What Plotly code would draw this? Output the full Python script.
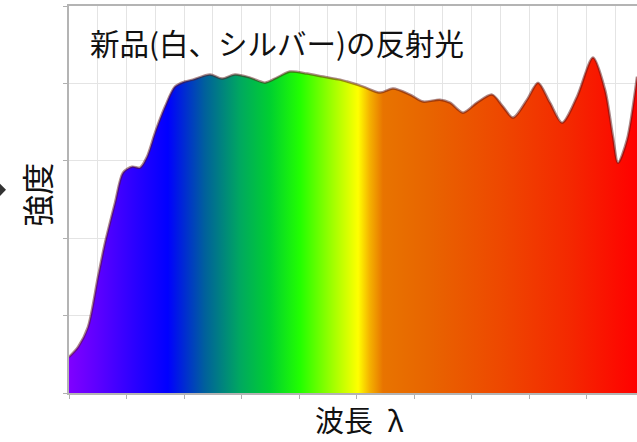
import plotly.graph_objects as go

# Wavelength position (arbitrary units, one tick = 1) and reflected intensity
wavelength = [0.0, 0.157, 0.330, 0.504, 0.626, 0.800, 0.939, 1.096, 1.235, 1.357,
              1.496, 1.670, 1.843, 2.017, 2.157, 2.452, 2.661, 2.887, 3.148, 3.409,
              3.617, 3.843, 4.139, 4.417, 4.713, 4.835, 5.113, 5.409, 5.635, 5.930,
              6.157, 6.452, 6.626, 6.852, 7.096, 7.357, 7.548, 7.722, 7.965, 8.157,
              8.365, 8.574, 8.835, 9.113, 9.322, 9.461, 9.548, 9.704, 9.878]
intensity = [0.466, 0.595, 0.854, 1.501, 1.940, 2.458, 2.846, 2.924, 2.911, 3.053,
             3.364, 3.700, 3.959, 4.024, 4.049, 4.114, 4.062, 4.114, 4.075, 4.010,
             4.075, 4.153, 4.127, 4.088, 4.049, 4.024, 3.959, 3.881, 3.933, 3.855,
             3.765, 3.790, 3.752, 3.622, 3.752, 3.855, 3.700, 3.558, 3.790, 4.010,
             3.752, 3.493, 3.829, 4.334, 3.920, 3.312, 2.975, 3.273, 4.088]

# Spectrum gradient stops (relative position, colour)
spectrum_pos = [0.0, 0.046, 0.116, 0.174, 0.239, 0.301, 0.354, 0.407, 0.468,
                0.509, 0.530, 0.553, 0.636, 0.759, 0.882, 1.0]
spectrum_col = ["#8000ff", "#6000ff", "#2a00ff", "#0000ff", "#00609c", "#00a860",
                "#00d030", "#22ff00", "#a8ff00", "#ffff00", "#f4b000", "#e87400",
                "#e86400", "#ee4800", "#f42800", "#ff0000"]

title_text = "新品(白、シルバー)の反射光"
x_label = "波長\u2002λ"
y_label = "強度"

X_MAX = 9.878
FONT = "Noto Sans CJK JP, Meiryo, sans-serif"

fig = go.Figure()
fig.add_trace(go.Scatter(
    x=wavelength, y=intensity, mode="lines",
    line=dict(shape="spline", smoothing=0.8, color="rgba(90,20,20,0.5)", width=2.5),
    fill="tozeroy",
    fillgradient=dict(type="horizontal",
                      colorscale=[[p, c] for p, c in zip(spectrum_pos, spectrum_col)],
                      start=0, stop=X_MAX),
    hoverinfo="skip", showlegend=False,
))

grid = "#e4e4e4"
fig.update_layout(
    width=637, height=442,
    margin=dict(l=69, r=0, t=6, b=49),
    paper_bgcolor="white", plot_bgcolor="white",
    font=dict(family=FONT, color="#111111"),
    xaxis=dict(range=[0, X_MAX], tick0=0, dtick=1, showticklabels=False,
               ticks="outside", ticklen=4, tickcolor="#b0b0b0",
               showgrid=True, gridcolor=grid, gridwidth=1,
               minor=dict(dtick=0.5, showgrid=True, gridcolor=grid, ticks=""),
               showline=True, linecolor="#b4b4b4", linewidth=2, mirror=True,
               zeroline=False, fixedrange=True),
    yaxis=dict(range=[0, 5], tick0=0, dtick=1, showticklabels=False,
               ticks="outside", ticklen=4, tickcolor="#b0b0b0",
               showgrid=True, gridcolor=grid, gridwidth=1,
               showline=True, linecolor="#b4b4b4", linewidth=2,
               zeroline=False, fixedrange=True),
    annotations=[
        dict(text=title_text, xref="paper", yref="paper", x=0.033, y=0.906,
             xanchor="left", yanchor="middle", showarrow=False,
             font=dict(size=29.5, family=FONT, color="#111111")),
        dict(text=x_label, xref="paper", yref="paper", x=0.512, y=-0.068,
             xanchor="center", yanchor="middle", showarrow=False, borderpad=0,
             font=dict(size=29, family=FONT, color="#111111")),
        dict(text=y_label, xref="paper", yref="paper", x=-0.0581, y=0.512,
             xanchor="center", yanchor="middle", showarrow=False, textangle=-90,
             font=dict(size=32, family=FONT, color="#111111")),
    ],
    shapes=[
        dict(type="path", xref="paper", yref="paper",
             path="M -0.1215 0.541 L -0.1109 0.525 L -0.1215 0.509 Z",
             fillcolor="#333333", line=dict(width=0)),
    ],
)

fig.write_html("out.html", config={"displayModeBar": False},
               post_script="document.body.style.margin='0';document.body.style.overflow='hidden';")
